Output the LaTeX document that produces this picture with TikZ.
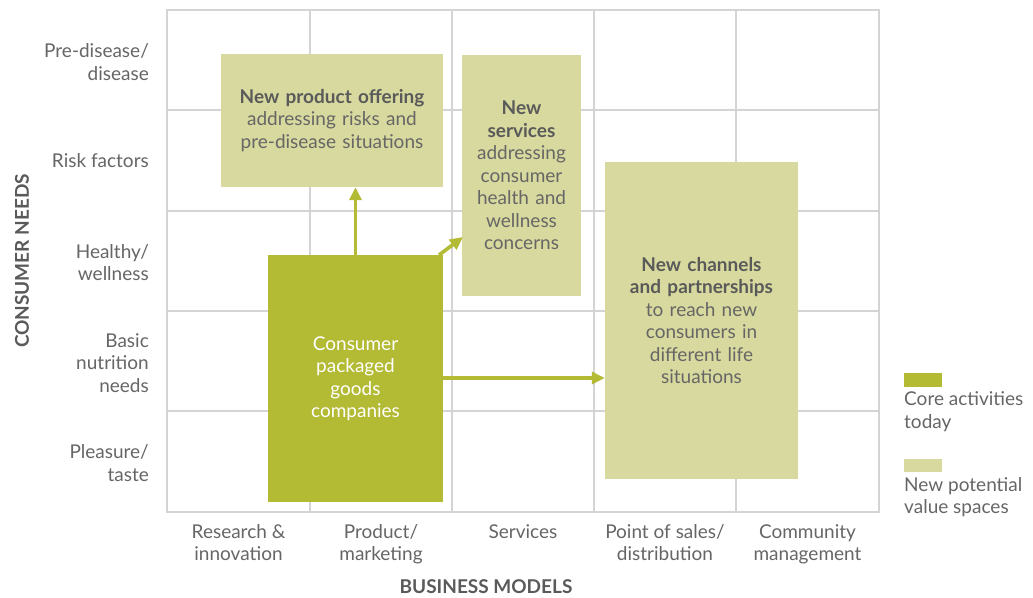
\documentclass[tikz,border=0pt]{standalone}
\usepackage{fontspec}
\setmainfont{Lato}
\usetikzlibrary{arrows.meta}
\definecolor{core}{HTML}{B3BA33}
\definecolor{newv}{HTML}{D8D99E}
\definecolor{gridc}{HTML}{D4D4D4}
\definecolor{txt}{HTML}{666666}
\definecolor{txtb}{HTML}{5A5A5A}
\begin{document}
\begin{tikzpicture}[x=1pt,y=-1pt,
  every node/.style={font=\fontsize{19}{22.5}\selectfont, text=txt, inner sep=0pt},
  gridline/.style={draw=gridc, line width=1.8pt},
  newbox/.style={fill=newv, align=center},
  ylab/.style={anchor=east, align=right},
  xlab/.style={anchor=north, align=center},
  arr/.style={draw=core, line width=3.6pt, -{Triangle[length=13pt,width=12pt]}},
  axis/.style={font=\fontsize{19}{22}\selectfont\bfseries, text=txtb}
]
\useasboundingbox (0,0) rectangle (1033,597);
\fill[white] (0,0) rectangle (1033,597);
% grid
\draw[gridline] (167,10) rectangle (879,512);
\foreach \x in {310,452,594,736} \draw[gridline] (\x,10) -- (\x,512);
\foreach \y in {110,211,311,411} \draw[gridline] (167,\y) -- (879,\y);
% boxes
\node[newbox, minimum width=222pt, minimum height=133pt, text width=215pt] (prod) at (332,120.5)
  {{\bfseries\color{txtb}New product offering}\\addressing risks and\\pre-disease situations};
\node[newbox, minimum width=119pt, minimum height=241pt, text width=115pt] (serv) at (521.5,175.5)
  {{\bfseries\color{txtb}New\\services}\\addressing\\consumer\\health and\\wellness\\concerns};
\node[newbox, minimum width=193pt, minimum height=317pt, text width=185pt] (chan) at (701.5,320.5)
  {{\bfseries\color{txtb}New channels\\and partnerships}\\to reach new\\consumers in\\different life\\situations};
\node[fill=core, minimum width=175pt, minimum height=247pt, text width=165pt, align=center, text=white] (cpg) at (355.5,378.5)
  {Consumer\\packaged\\goods\\companies};
% arrows
\coordinate (s2) at (439,255);
\coordinate (t2) at (463,237);
\coordinate (s3) at (443,378);
\draw[arr] (cpg.north) -- (cpg.north |- prod.south);
\draw[arr] (s2) -- (t2);
\draw[arr] (s3) -- (s3 -| chan.west);
% y labels
\node[ylab] (y1) at (149,62) {Pre-disease/\\disease};
\node[ylab] (y2) at (149,161) {Risk factors};
\node[ylab] (y3) at (149,262.5) {Healthy/\\wellness};
\node[ylab] (y4) at (149,363) {Basic\\nutrition\\needs};
\node[ylab] (y5) at (149,463) {Pleasure/\\taste};
% x labels
\node[xlab] (x1) at (238.5,524) {Research \&\\innovation};
\node[xlab] (x2) at (381,524) {Product/\\marketing};
\node[xlab] (x3) at (523,524) {Services};
\node[xlab] (x4) at (665,524) {Point of sales/\\distribution};
\node[xlab] (x5) at (807.5,524) {Community\\management};
% axis titles
\node[axis, rotate=90] (ya) at (22,261) {CONSUMER NEEDS};
\node[axis] (xa) at (486,587) {BUSINESS MODELS};
% legend
\fill[core] (904,373) rectangle (942,387);
\node[anchor=west, align=left] (l1) at (904,411.5) {Core activities\\today};
\fill[newv] (904,459) rectangle (942,472);
\node[anchor=west, align=left] (l2) at (904,497) {New potential\\value spaces};
\end{tikzpicture}
\end{document}
